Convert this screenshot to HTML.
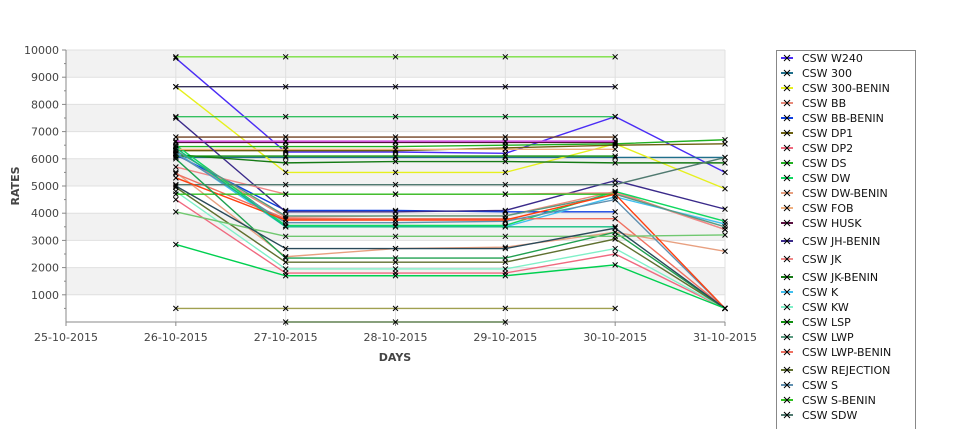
<!DOCTYPE html>
<html><head><meta charset="utf-8">
<style>
body{margin:0;background:#fff;width:975px;height:429px;overflow:hidden;font-family:"DejaVu Sans","Liberation Sans",sans-serif;}
svg text{font-family:"DejaVu Sans","Liberation Sans",sans-serif;}
</style></head>
<body>
<svg id="chart" width="975" height="429" viewBox="0 0 975 429" xmlns="http://www.w3.org/2000/svg">
  <g id="bands"></g>
  <g id="grid"></g>
  <g id="axes"></g>
  <g id="series"></g>
  <g id="legend"></g>
</svg>
<script>
const categories = ["25-10-2015","26-10-2015","27-10-2015","28-10-2015","29-10-2015","30-10-2015","31-10-2015"];
const yTicks = [1000,2000,3000,4000,5000,6000,7000,8000,9000,10000];
const seriesNames = ["CSW  W240","CSW 300","CSW 300-BENIN","CSW BB","CSW BB-BENIN","CSW DP1","CSW DP2","CSW DS","CSW DW","CSW DW-BENIN","CSW FOB","CSW HUSK","CSW JH-BENIN","CSW JK","CSW JK-BENIN","CSW K","CSW KW","CSW LSP","CSW LWP","CSW LWP-BENIN","CSW REJECTION","CSW S","CSW S-BENIN","CSW SDW","CSW SW","CSW WW","CSW X1","CSW X2","CSW X3","CSW X4","CSW X5","CSW X6","CSW X7","CSW X8","CSW X9"];
const seriesColors = ["#4a2cf5","#1f6f8b","#e6f01e","#e88a7a","#1040e0","#6b6010","#f06a80","#22b022","#10d860","#e8a080","#f0b080","#5a1040","#3a2a8a","#f08888","#157a15","#40c0f0","#80f0c8","#109010","#5a9a80","#f07060","#607030","#6090b0","#30c020","#507a70","#78e040","#35305a","#35c060","#704020","#d050e0","#ff4010","#20a050","#a0a050","#608050","#10c080","#70c870"];
const s0=[null,9700,6250,6250,6200,7550,5500];
const s1=[null,6050,6050,6050,6050,6050,6050];
const s2=[null,8650,5500,5500,5500,6550,4900];
const s3=[null,6200,3850,3900,3900,4800,3400];
const s4=[null,6150,4100,4100,4050,4050,null];
const s5=[null,6300,6300,6300,6400,6500,6550];
const s6=[null,4500,1800,1800,1800,2500,500];
const s7=[null,6450,6450,6450,6500,6550,6700];
const s8=[null,6500,3550,3550,3550,4800,3700];
const s9=[null,5500,2400,2700,2750,3300,2600];
const s10=[null,6350,6350,6350,6350,6350,null];
const s11=[null,6600,6600,6600,6600,6600,null];
const s12=[null,7500,4050,4050,4100,5200,4150];
const s13=[null,5700,4700,4700,4700,4750,3400];
const s14=[null,6150,5850,5900,5900,5850,5850];
const s15=[null,6250,3500,3500,3500,4600,3600];
const s16=[null,4800,1950,1950,1950,2700,500];
const s17=[null,6100,6100,6100,6100,6100,null];
const s18=[null,6300,3900,3900,3900,4700,3500];
const s19=[null,5450,3800,3800,3800,3800,500];
const s20=[null,4950,2200,2200,2200,3050,500];
const s21=[null,6200,3650,3650,3700,4500,500];
const s22=[null,4700,4700,4700,4700,4700,null];
const s23=[null,5050,5050,5050,5050,5050,6050];
const s24=[null,9750,9750,9750,9750,9750,null];
const s25=[null,8650,8650,8650,8650,8650,null];
const s26=[null,7550,7550,7550,7550,7550,null];
const s27=[null,6800,6800,6800,6800,6800,null];
const s28=[null,6650,6650,6650,6650,6650,null];
const s29=[null,5300,3750,3750,3750,4700,500];
const s30=[null,6000,2350,2350,2350,3300,500];
const s31=[null,500,500,500,500,500,null];
const s32=[null,null,0,0,0,null,null];
const s33=[null,6400,3500,3500,3500,3500,null];
const s34=[null,4050,3150,3150,3150,3150,3200];
const s35=[null,5000,2700,2700,2700,3450,500];
const s36=[null,2850,1700,1700,1700,2100,500];
const allSeries=[s0,s1,s2,s3,s4,s5,s6,s7,s8,s9,s10,s11,s12,s13,s14,s15,s16,s17,s18,s19,s20,s21,s22,s23,s24,s25,s26,s27,s28,s29,s30,s31,s32,s33,s34,s35,s36];
const extraColors=["#2a4a5a","#00d050"];

const NS="http://www.w3.org/2000/svg";
const X0=66,X1=725,Y0=322,Y1=50;
const xScale=i=>X0+(X1-X0)*i/(categories.length-1);
const yScale=v=>Y0-(Y0-Y1)*v/10000;
function mk(tag,attrs,parent){const e=document.createElementNS(NS,tag);for(const k in attrs)e.setAttribute(k,attrs[k]);parent.appendChild(e);return e;}
const bands=document.getElementById('bands'),grid=document.getElementById('grid'),axes=document.getElementById('axes'),ser=document.getElementById('series'),leg=document.getElementById('legend');

for(let v=0;v<10000;v+=1000){
  const r=mk('rect',{x:X0,y:yScale(v+1000),width:X1-X0,height:yScale(v)-yScale(v+1000),fill:(v/1000)%2===1?'#f2f2f2':'#ffffff'},bands);
  
  
}
yTicks.forEach(v=>{
  const l=mk('line',{x1:X0,x2:X1,y1:yScale(v),y2:yScale(v),stroke:'#e0e0e0','stroke-width':1},grid);
  
  
  const t=mk('line',{x1:X0-4,x2:X0,y1:yScale(v),y2:yScale(v),stroke:'#888'},axes);
  
  
  const tx=mk('text',{x:X0-7,y:yScale(v)+4,'text-anchor':'end','font-size':11,fill:'#444'},axes);
  tx.textContent=v;
  
  
});
for(let v=500;v<10000;v+=1000){
  const t=mk('line',{x1:X0-2,x2:X0,y1:yScale(v),y2:yScale(v),stroke:'#888'},axes);
  
  
}
categories.forEach((c,i)=>{
  const l=mk('line',{x1:xScale(i),x2:xScale(i),y1:Y1,y2:Y0,stroke:'#e0e0e0'},grid);
  
  
  const t=mk('line',{x1:xScale(i),x2:xScale(i),y1:Y0,y2:Y0+4,stroke:'#888'},axes);
  
  
  const tx=mk('text',{x:xScale(i),y:Y0+19,'text-anchor':'middle','font-size':11,fill:'#444'},axes);
  tx.textContent=c;
  
  
});
const ax1=mk('line',{x1:X0,x2:X0,y1:Y1,y2:Y0,stroke:'#888'},axes);


const ax2=mk('line',{x1:X0,x2:X1,y1:Y0,y2:Y0,stroke:'#888'},axes);


const xt=mk('text',{x:395,y:361,'text-anchor':'middle','font-size':11,'font-weight':'bold',fill:'#444'},axes);
xt.textContent='DAYS';


const yt=mk('text',{x:0,y:0,'text-anchor':'middle','font-size':11,'font-weight':'bold',fill:'#444',transform:'translate(19,186) rotate(-90)'},axes);
yt.textContent='RATES';



allSeries.forEach((vals,si)=>{
  const col=si<seriesColors.length?seriesColors[si]:extraColors[si-seriesColors.length];
  const g=mk('g',{},ser);
  
  
  let d='';let pen=false;
  vals.forEach((v,i)=>{if(v===null){pen=false;return;}d+=(pen?'L':'M')+xScale(i)+','+yScale(v);pen=true;});
  const p=mk('path',{d:d,fill:'none',stroke:col,'stroke-width':1.4},g);
  
  
  vals.forEach((v,i)=>{
    if(v===null)return;
    const x=xScale(i),y=yScale(v);
    const m=mk('path',{d:`M${x-2.5},${y-2.5}L${x+2.5},${y+2.5}M${x-2.5},${y+2.5}L${x+2.5},${y-2.5}`,stroke:'#000','stroke-width':1},g);
    
    
  });
});

const lb=mk('rect',{x:776.5,y:50.5,width:139,height:390,fill:'#fff',stroke:'#888'},leg);


const legendCount=24;
let ly=58;
for(let i=0;i<legendCount;i++){
  if(i===12||i===13||i===14||i===20) ly+=3;
  const g=mk('g',{},leg);
  
  
  const l=mk('line',{x1:781,x2:793,y1:ly,y2:ly,stroke:seriesColors[i],'stroke-width':2},g);
  
  
  const m=mk('path',{d:`M784,${ly-3}L790,${ly+3}M784,${ly+3}L790,${ly-3}`,stroke:'#000','stroke-width':1},g);
  
  
  const t=mk('text',{x:802,y:ly+4,'font-size':11,fill:'#111','xml:space':'preserve'},g);
  t.textContent=seriesNames[i];
  
  
  ly+=15;
}
</script>
</body></html>
